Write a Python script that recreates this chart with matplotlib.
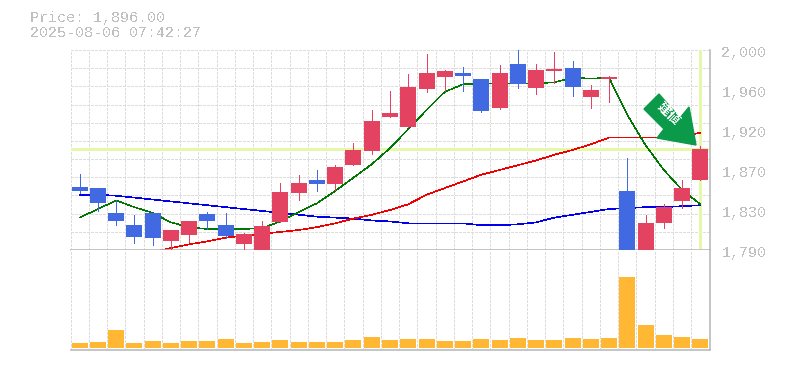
import matplotlib
matplotlib.use('Agg')
import matplotlib.pyplot as plt
from matplotlib.patches import Polygon

W, H = 785, 370

dates = ['6/24', '7/1', '7/8', '7/15', '7/23', '7/30', '8/6']
date_pos = [4, 9, 14, 19, 24, 29, 34]
price_ticks = [2000, 1958, 1916, 1874, 1832, 1790]
price_labels = ['2,000', '1,960', '1,920', '1,870', '1,830', '1,790']
last_price = 1896

opens = [1856, 1855, 1829, 1816, 1829, 1799, 1806, 1828, 1816, 1796, 1786, 1819,
         1850, 1863, 1859, 1879, 1894, 1930, 1919, 1959, 1972, 1976, 1970, 1939,
         1985, 1960, 1978, 1981, 1951, 1970, 1852, 1789, 1818, 1841, 1864]
highs = [1870, 1855, 1842, 1827, 1829, 1811, 1820, 1830, 1829, 1808, 1820, 1860,
         1869, 1874, 1879, 1902, 1937, 1957, 1975, 1996, 1979, 1982, 1970, 1984,
         2000, 1985, 1998, 1988, 1963, 1973, 1887, 1827, 1838, 1863, 1899]
lows = [1850, 1831, 1816, 1797, 1795, 1790, 1798, 1812, 1803, 1789, 1786, 1819,
        1842, 1852, 1853, 1879, 1891, 1930, 1919, 1956, 1957, 1957, 1935, 1938,
        1960, 1954, 1965, 1952, 1939, 1945, 1789, 1789, 1813, 1834, 1864]
closes = [1852, 1839, 1820, 1804, 1803, 1811, 1820, 1820, 1805, 1807, 1815, 1851,
          1860, 1859, 1877, 1895, 1925, 1934, 1961, 1976, 1978, 1973, 1936, 1976,
          1964, 1979, 1980, 1961, 1958, 1972, 1789, 1818, 1835, 1855, 1896]

ma_short = [1824, 1833, 1842, 1835, 1829, 1819, 1814, 1812, 1812, 1812, 1813, 1820,
            1830, 1839, 1852, 1866, 1880, 1897, 1917, 1937, 1956, 1964, 1965, 1965,
            1965, 1965, 1966, 1971, 1970, 1971, 1932, 1900, 1874, 1853, 1838]
ma_mid = [None, None, None, None, 1788, 1792, 1796, 1799, 1803, 1805, 1807, 1809,
          1811, 1814, 1818, 1823, 1827, 1832, 1838, 1848, 1855, 1862, 1869, 1874,
          1879, 1884, 1890, 1895, 1901, 1908, 1908, 1908, 1908, 1910, 1913]
ma_long = [1848, 1848, 1847, 1845, 1843, 1841, 1839, 1837, 1835, 1833, 1831, 1829,
           1827, 1825, 1824, 1823, 1821, 1820, 1818, 1818, 1818, 1818, 1816, 1816,
           1817, 1819, 1824, 1827, 1830, 1833, 1834, 1835, 1835, 1836, 1837]

volumes = [5, 6, 18, 5, 7, 5, 7, 7, 9, 5, 6, 8, 6, 6, 6, 8, 11, 8,
           9, 9, 7, 7, 9, 8, 10, 8, 8, 10, 9, 10, 71, 23, 13, 11, 9]

GRID = '#dddddd'
AXIS = '#bbbbbb'
TEXT = '#c0c0c0'
RED = '#e34260'
BLUE = '#4169e1'
GUIDE = '#e5f7a8'

plt.rcParams['font.family'] = ['Liberation Mono', 'DejaVu Sans Mono']
plt.rcParams['text.antialiased'] = False
plt.rcParams['lines.antialiased'] = False
fig = plt.figure(figsize=(W / 100, H / 100), dpi=100)


def box(x0, y0, x1, y1):
    return [x0 / W, 1 - y1 / H, (x1 - x0) / W, (y1 - y0) / H]


ax = fig.add_axes(box(70.5, 50, 709.5, 250))
vol = fig.add_axes(box(70.5, 250, 709.5, 350))
n = len(opens)

for a in (ax, vol):
    a.set_xlim(-0.5, n - 0.5)
    a.set_axisbelow(True)
    for s in ('top', 'left'):
        a.spines[s].set_visible(False)
    for s in ('bottom', 'right'):
        a.spines[s].set_color(AXIS)
        a.spines[s].set_linewidth(1.2)
    a.tick_params(length=0, labelleft=False, labelbottom=False)
    a.set_xticks([i - 0.5 for i in range(n + 1)])
    a.grid(axis='x', color=GRID, linestyle=(0, (2.5, 1.5)), linewidth=0.72)

ax.set_ylim(1790, 2000)
ax.set_yticks([1790 + 210 * i / 11 for i in range(12)])
ax.grid(axis='y', color=GRID, linestyle=(0, (2.5, 1.5)), linewidth=0.72)

# price guide lines
ax.axhline(last_price, color=GUIDE, linewidth=2.0, zorder=1.5)
ax.plot([n - 1, n - 1], [1790, 2000], color=GUIDE, linewidth=2.0, zorder=1.5)

x = list(range(n))
ax.plot(x, ma_long, color='#0000ee', linewidth=0.45, zorder=2, clip_on=False)
ax.plot(x, ma_mid, color='#ee0000', linewidth=0.45, zorder=2, clip_on=False)
ax.plot(x, ma_short, color='#007700', linewidth=0.35, zorder=2, clip_on=False)

colors = [RED if c >= o else BLUE for o, c in zip(opens, closes)]
ax.vlines(x, lows, highs, colors=colors, linewidth=0.72, zorder=3, clip_on=False,
          antialiased=False)
ax.bar(x, [abs(c - o) for o, c in zip(opens, closes)],
       bottom=[min(o, c) for o, c in zip(opens, closes)],
       width=0.875, color=colors, zorder=4, clip_on=False)

vol.set_ylim(-2, 98)
vol.set_yticks([])
vol.bar(x, volumes, width=0.875, color='#ffb734', zorder=3)

for pos, lab in zip(date_pos, dates):
    ax.annotate(lab, (pos, 1790), xytext=(0, -12), textcoords='offset pixels',
                ha='center', va='center', color=TEXT, fontsize=7.2)

for val, lab in zip(price_ticks, price_labels):
    ax.annotate(lab, (1, val), xycoords=('axes fraction', 'data'), xytext=(12, -3),
                textcoords='offset pixels', ha='left', va='center', color=TEXT,
                fontsize=10.8)

fig.text(30 / W, 1 - 18 / H, 'Price: 1,896.00', color=TEXT, fontsize=10.8, va='center')
fig.text(30 / W, 1 - 33 / H, '2025-08-06 07:42:27', color=TEXT, fontsize=10.8, va='center')

# arrow marker
arrow_px = [(659, 94), (644, 109), (664, 129), (657, 138), (696, 145), (689, 107), (680, 118)]
fig.add_artist(Polygon([(px / W, 1 - py / H) for px, py in arrow_px],
                       closed=True, transform=fig.transFigure, color='#0a9a4a', zorder=10))
fig.text(669 / W, 1 - 114 / H, '建値', color='white', fontsize=9.5, rotation=-45,
         ha='center', va='center', rotation_mode='anchor', weight='bold',
         family=['Noto Sans CJK JP', 'DejaVu Sans'], zorder=11)

fig.savefig('out.png', dpi=100)
